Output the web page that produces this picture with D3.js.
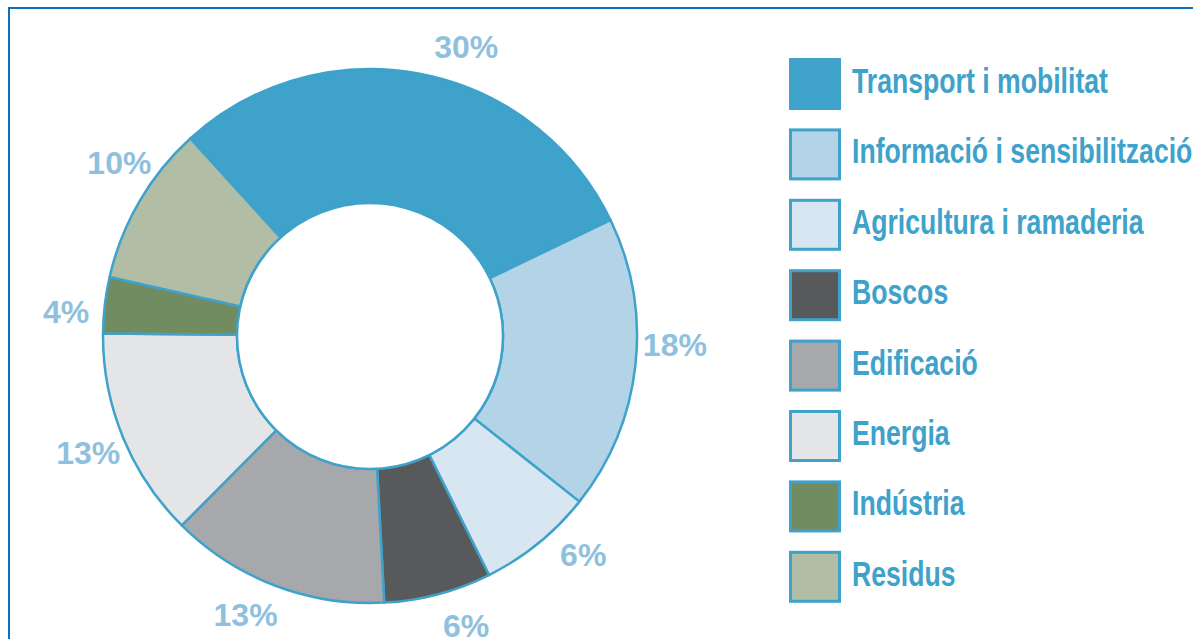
<!DOCTYPE html>
<html>
<head>
<meta charset="utf-8">
<script src="https://cdn.jsdelivr.net/npm/d3@7"></script>
<style>
  body { margin: 0; background: #fff; }
  svg { display: block; }
</style>
</head>
<body>
<div id="chart"></div>
<script>
// categories, shares, printed labels
var categories = ["Transport i mobilitat", "Informació i sensibilització", "Agricultura i ramaderia",
                  "Boscos", "Edificació", "Energia", "Indústria", "Residus"];
var shares = [29.6, 17.8, 7.0, 6.5, 13.3, 12.7, 3.4, 9.7];
var shareLabels = ["30%", "18%", "6%", "6%", "13%", "13%", "4%", "10%"];
var colours = ["#3ea2ca", "#b3d3e7", "#d8e6f2", "#58595b", "#a7a8ac", "#e4e5e7", "#728c62", "#b1bda5"];

var width = 1193, height = 639;
var edge = "#3ea2ca";

var svg = d3.select("#chart").append("svg")
	.attr("width", width)
	.attr("height", height);

// frame (top and left only)
svg.append("path")
	.attr("d", "M9," + height + "V8H" + width)
	.attr("fill", "none")
	.attr("stroke", "#0a6fc0")
	.attr("stroke-width", 2);

var cx = 370, cy = 336, outerR = 267, innerR = 133;

var pie = d3.pie().sort(null).value(function(d){ return d; })
	.startAngle(-42.3 * Math.PI / 180)
	.endAngle((360 - 42.3) * Math.PI / 180);

var arcs = pie(shares);

var arc = d3.arc().innerRadius(innerR).outerRadius(outerR);

// labels sit outside the ring, hand-nudged along it like the original (degrees)
var labelR = 305;
var nudge = [7.4, -4.7, -5.3, -3.6, 3.2, -0.2, -2, 4.5];

var donut = svg.append("g")
	.attr("transform", "translate(" + cx + "," + cy + ")");

donut.selectAll("path.slice")
	.data(arcs)
	.enter().append("path")
	.attr("class", "slice")
	.attr("d", arc)
	.attr("fill", function(d, i){ return colours[i]; })
	.attr("stroke", edge)
	.attr("stroke-width", 2.5)
	.attr("stroke-linejoin", "round");

donut.append("circle")
	.attr("r", innerR)
	.attr("fill", "#fff")
	.attr("stroke", edge)
	.attr("stroke-width", 2.5);

donut.selectAll("text.pct")
	.data(arcs)
	.enter().append("text")
	.attr("class", "pct")
	.attr("transform", function(d, i){
		var a = (d.startAngle + d.endAngle) / 2 + nudge[i] * Math.PI / 180;
		return "translate(" + d3.pointRadial(a, labelR) + ")";
	})
	.attr("text-anchor", "middle")
	.attr("dy", "0.36em")
	.style("font-family", "'Liberation Sans', Arial, sans-serif")
	.style("font-weight", "bold")
	.style("font-size", "32px")
	.style("fill", "#8fc1de")
	.text(function(d, i){ return shareLabels[i]; });

// legend
var y = d3.scaleBand()
	.domain(categories)
	.range([56, 56 + 70.4 * 8]);

var legend = svg.append("g");

var rows = legend.selectAll("g.row")
	.data(categories)
	.enter().append("g")
	.attr("class", "row")
	.attr("transform", function(d){ return "translate(789," + y(d) + ")"; });

rows.append("rect")
	.attr("x", 1.5).attr("y", 3.5)
	.attr("width", 49).attr("height", 49)
	.attr("fill", function(d, i){ return colours[i]; })
	.attr("stroke", edge)
	.attr("stroke-width", 3);

// condensed face: squeeze Liberation Sans horizontally
rows.append("text")
	.attr("transform", "translate(63,37) scale(0.74,1)")
	.style("font-family", "'Liberation Sans', Arial, sans-serif")
	.style("font-weight", "bold")
	.style("font-size", "36px")
	.style("fill", edge)
	.text(function(d){ return d; });
</script>
</body>
</html>
